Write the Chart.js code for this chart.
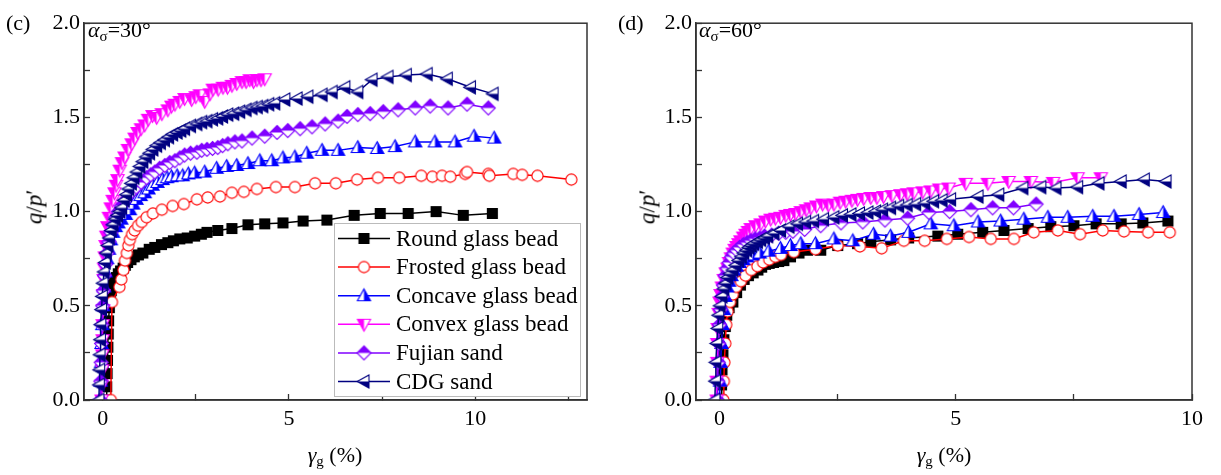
<!DOCTYPE html>
<html><head><meta charset="utf-8">
<script src="https://cdn.jsdelivr.net/npm/chart.js@4/dist/chart.umd.min.js"></script>
<style>
html,body{margin:0;padding:0;background:#fff;width:1221px;height:475px;overflow:hidden;}
.wrap{position:absolute;top:0;height:475px;}
.t{position:absolute;font-family:'Liberation Serif','Times New Roman',serif;color:#000;white-space:nowrap;line-height:1;}
.sub{font-size:0.68em;position:relative;top:0.3em;}
.rot{transform:translate(-50%,-50%) rotate(-90deg);}
.cx{transform:translate(-50%,-50%);}
</style></head><body>
<div class="wrap" style="left:0;width:600px"><canvas id="c1" width="600" height="475"></canvas></div>
<div class="wrap" style="left:610px;width:611px"><canvas id="c2" width="611" height="475"></canvas></div>

<div class="t" style="left:6px;top:12px;font-size:22px">(c)</div>
<div class="t" style="left:88px;top:19px;font-size:22px"><i>α</i><span class="sub">σ</span>=30°</div>
<div class="t rot" style="left:34px;top:207px;font-size:23px"><i>q</i>/<i>p</i>′</div>
<div class="t cx" style="left:335px;top:455px;font-size:22px"><i>γ</i><span class="sub">g</span> (%)</div>

<div class="t" style="left:618px;top:12px;font-size:22px">(d)</div>
<div class="t" style="left:699px;top:19px;font-size:22px"><i>α</i><span class="sub">σ</span>=60°</div>
<div class="t rot" style="left:647px;top:207px;font-size:23px"><i>q</i>/<i>p</i>′</div>
<div class="t cx" style="left:944px;top:455px;font-size:22px"><i>γ</i><span class="sub">g</span> (%)</div>

<script>
// ---------------- DATA ----------------
const seriesNames = ['Round glass bead','Frosted glass bead','Concave glass bead','Convex glass bead','Fujian sand','CDG sand'];
const seriesColors = ['#000000','#FF0000','#0000FF','#FF00FF','#8000FF','#000080'];
const xTicksC = [0,2.5,5,7.5,10,12.5];
const xTicksD = [0,2.5,5,7.5,10];
const yTicks = [0,0.25,0.5,0.75,1.0,1.25,1.5,1.75,2.0];

// panel (c): alpha = 30 deg   [gamma_g (%), q/p']
const roundC = [[0.1,0],[0.11,0.07],[0.12,0.14],[0.13,0.21],[0.14,0.28],[0.15,0.35],[0.16,0.42],[0.18,0.49],[0.2,0.54],[0.23,0.58],[0.27,0.61],[0.32,0.63],[0.37,0.65],[0.42,0.67],[0.48,0.685],[0.55,0.7],[0.61,0.715],[0.67,0.73],[0.76,0.745],[0.85,0.76],[0.96,0.77],[1.08,0.78],[1.25,0.8],[1.4,0.81],[1.58,0.825],[1.75,0.835],[1.9,0.845],[2.07,0.855],[2.27,0.86],[2.47,0.87],[2.65,0.88],[2.8,0.89],[3.09,0.9],[3.47,0.91],[3.9,0.93],[4.35,0.935],[4.84,0.94],[5.38,0.95],[6.02,0.955],[6.75,0.98],[7.45,0.99],[8.2,0.99],[8.95,1.0],[9.68,0.98],[10.46,0.99]];
const frostedC = [[0.22,0],[0.25,0.52],[0.45,0.6],[0.5,0.64],[0.56,0.69],[0.6,0.74],[0.65,0.78],[0.69,0.82],[0.73,0.85],[0.79,0.88],[0.86,0.9],[0.95,0.925],[1.05,0.945],[1.18,0.97],[1.35,0.99],[1.59,1.01],[1.88,1.03],[2.18,1.04],[2.53,1.065],[2.82,1.075],[3.15,1.08],[3.47,1.1],[3.79,1.105],[4.14,1.12],[4.65,1.13],[5.16,1.13],[5.7,1.15],[6.26,1.15],[6.83,1.17],[7.39,1.18],[7.96,1.18],[8.55,1.19],[8.85,1.185],[9.11,1.19],[9.33,1.185],[9.73,1.2],[9.78,1.21],[10.35,1.2],[10.38,1.19],[11.02,1.2],[11.26,1.195],[11.67,1.19],[12.58,1.17]];
const concaveC = [[-0.06,0],[-0.05,0.1],[-0.04,0.2],[-0.03,0.3],[-0.01,0.4],[0.01,0.5],[0.04,0.6],[0.08,0.68],[0.12,0.75],[0.17,0.8],[0.22,0.85],[0.28,0.89],[0.35,0.92],[0.42,0.94],[0.5,0.96],[0.62,0.985],[0.73,1.01],[0.82,1.04],[0.91,1.065],[1.02,1.085],[1.13,1.1],[1.23,1.12],[1.34,1.14],[1.47,1.155],[1.61,1.17],[1.73,1.18],[1.85,1.185],[2.0,1.19],[2.15,1.19],[2.3,1.2],[2.47,1.205],[2.74,1.21],[3.06,1.23],[3.33,1.24],[3.6,1.245],[3.9,1.255],[4.22,1.27],[4.54,1.27],[4.84,1.285],[5.16,1.29],[5.48,1.31],[5.89,1.325],[6.32,1.325],[6.85,1.34],[7.37,1.335],[7.85,1.345],[8.39,1.37],[8.92,1.37],[9.46,1.37],[9.97,1.4],[10.51,1.39]];
const convexC = [[-0.03,0],[-0.02,0.08],[-0.01,0.16],[-0.01,0.24],[0.0,0.32],[0.0,0.4],[0.01,0.48],[0.02,0.56],[0.03,0.64],[0.04,0.7],[0.06,0.76],[0.08,0.82],[0.1,0.87],[0.13,0.92],[0.17,0.97],[0.22,1.02],[0.27,1.06],[0.32,1.1],[0.36,1.14],[0.4,1.17],[0.46,1.22],[0.52,1.26],[0.59,1.29],[0.68,1.33],[0.78,1.36],[0.86,1.39],[0.94,1.42],[1.03,1.44],[1.13,1.46],[1.22,1.49],[1.34,1.51],[1.45,1.5],[1.59,1.52],[1.75,1.54],[1.85,1.56],[1.94,1.57],[2.07,1.585],[2.2,1.6],[2.39,1.595],[2.5,1.61],[2.61,1.62],[2.74,1.585],[2.88,1.625],[2.96,1.65],[3.1,1.65],[3.23,1.66],[3.35,1.66],[3.47,1.67],[3.6,1.68],[3.74,1.69],[3.85,1.69],[3.95,1.7],[4.05,1.69],[4.14,1.7],[4.25,1.7],[4.35,1.705]];
const fujianC = [[-0.06,0],[-0.05,0.1],[-0.04,0.2],[-0.03,0.3],[-0.02,0.4],[0.0,0.5],[0.02,0.58],[0.05,0.66],[0.08,0.72],[0.12,0.78],[0.17,0.84],[0.22,0.89],[0.28,0.93],[0.35,0.97],[0.42,1.0],[0.5,1.03],[0.6,1.06],[0.7,1.09],[0.8,1.11],[0.9,1.13],[1.03,1.155],[1.18,1.18],[1.29,1.195],[1.4,1.21],[1.53,1.23],[1.67,1.245],[1.8,1.26],[1.94,1.27],[2.07,1.285],[2.2,1.3],[2.36,1.31],[2.53,1.315],[2.66,1.325],[2.8,1.33],[2.95,1.335],[3.09,1.34],[3.22,1.35],[3.36,1.36],[3.55,1.37],[3.74,1.375],[4.01,1.39],[4.35,1.4],[4.68,1.42],[4.97,1.43],[5.3,1.44],[5.62,1.45],[5.97,1.465],[6.32,1.48],[6.56,1.505],[6.85,1.515],[7.18,1.52],[7.53,1.53],[7.93,1.54],[8.39,1.55],[8.79,1.56],[9.27,1.55],[9.78,1.57],[10.35,1.55]];
const cdgC = [[-0.1,0],[-0.09,0.08],[-0.08,0.16],[-0.07,0.24],[-0.06,0.32],[-0.05,0.4],[-0.03,0.48],[-0.01,0.55],[0.01,0.62],[0.04,0.68],[0.07,0.73],[0.1,0.78],[0.14,0.82],[0.18,0.86],[0.23,0.9],[0.28,0.93],[0.34,0.96],[0.4,0.98],[0.46,1.0],[0.51,1.02],[0.58,1.06],[0.64,1.09],[0.7,1.12],[0.77,1.15],[0.84,1.18],[0.92,1.21],[1.0,1.24],[1.08,1.265],[1.17,1.29],[1.26,1.31],[1.35,1.33],[1.45,1.35],[1.55,1.365],[1.66,1.38],[1.77,1.395],[1.88,1.41],[2.0,1.42],[2.1,1.43],[2.2,1.44],[2.36,1.455],[2.53,1.465],[2.66,1.475],[2.8,1.48],[2.95,1.49],[3.09,1.495],[3.22,1.505],[3.36,1.515],[3.52,1.52],[3.68,1.53],[3.85,1.54],[4.01,1.55],[4.15,1.555],[4.3,1.56],[4.46,1.57],[4.62,1.575],[4.89,1.595],[5.22,1.6],[5.51,1.61],[5.89,1.62],[6.16,1.635],[6.5,1.66],[6.85,1.635],[7.23,1.7],[7.66,1.715],[8.15,1.725],[8.71,1.73],[9.25,1.705],[9.87,1.66],[10.48,1.625]];

// panel (d): alpha = 60 deg
const roundD = [[0.03,0],[0.04,0.08],[0.05,0.16],[0.07,0.24],[0.09,0.32],[0.12,0.39],[0.15,0.45],[0.2,0.49],[0.28,0.52],[0.36,0.57],[0.44,0.61],[0.52,0.64],[0.61,0.66],[0.71,0.675],[0.81,0.69],[0.89,0.705],[0.97,0.72],[1.05,0.725],[1.14,0.73],[1.25,0.735],[1.36,0.74],[1.5,0.76],[1.68,0.78],[1.86,0.795],[2.14,0.795],[2.5,0.82],[2.92,0.83],[3.2,0.84],[3.62,0.85],[4.0,0.86],[4.62,0.87],[5.04,0.88],[5.57,0.89],[6.02,0.9],[6.53,0.91],[7.01,0.92],[7.5,0.925],[7.97,0.935],[8.5,0.935],[8.96,0.94],[9.49,0.95]];
const frostedD = [[0.08,0],[0.09,0.1],[0.1,0.2],[0.12,0.3],[0.14,0.4],[0.17,0.47],[0.22,0.52],[0.28,0.56],[0.35,0.6],[0.45,0.63],[0.55,0.66],[0.67,0.69],[0.8,0.71],[0.92,0.73],[1.05,0.745],[1.18,0.76],[1.3,0.77],[1.57,0.785],[2.03,0.8],[2.5,0.82],[2.97,0.815],[3.43,0.805],[3.9,0.845],[4.34,0.845],[4.81,0.855],[5.28,0.865],[5.74,0.855],[6.23,0.855],[6.65,0.89],[7.16,0.9],[7.63,0.88],[8.11,0.9],[8.56,0.895],[9.07,0.89],[9.53,0.89]];
const concaveD = [[0.0,0],[0.01,0.1],[0.02,0.2],[0.04,0.3],[0.06,0.4],[0.09,0.48],[0.12,0.55],[0.16,0.6],[0.2,0.63],[0.25,0.66],[0.3,0.69],[0.36,0.71],[0.42,0.73],[0.5,0.745],[0.58,0.76],[0.7,0.77],[0.85,0.78],[1.04,0.79],[1.29,0.805],[1.5,0.82],[1.72,0.83],[2.03,0.83],[2.42,0.855],[2.82,0.845],[3.26,0.88],[3.62,0.87],[4.0,0.89],[4.47,0.935],[4.96,0.925],[5.47,0.945],[5.95,0.95],[6.44,0.96],[6.95,0.97],[7.37,0.97],[7.9,0.975],[8.35,0.975],[8.88,0.985],[9.39,0.995]];
const convexD = [[-0.06,0],[-0.06,0.1],[-0.05,0.2],[-0.05,0.3],[-0.04,0.38],[-0.02,0.46],[0.0,0.52],[0.02,0.56],[0.05,0.6],[0.09,0.64],[0.13,0.675],[0.17,0.7],[0.2,0.73],[0.24,0.755],[0.28,0.78],[0.32,0.8],[0.36,0.815],[0.4,0.83],[0.44,0.845],[0.5,0.865],[0.55,0.88],[0.6,0.895],[0.66,0.91],[0.76,0.925],[0.87,0.935],[0.97,0.95],[1.08,0.96],[1.18,0.965],[1.29,0.97],[1.4,0.98],[1.5,0.985],[1.61,0.99],[1.72,1.0],[1.83,1.01],[1.93,1.02],[2.05,1.03],[2.18,1.04],[2.3,1.035],[2.42,1.04],[2.55,1.05],[2.67,1.055],[2.8,1.06],[2.92,1.065],[3.05,1.07],[3.2,1.075],[3.33,1.075],[3.47,1.08],[3.65,1.085],[3.83,1.09],[3.97,1.095],[4.11,1.1],[4.3,1.105],[4.47,1.11],[4.65,1.12],[4.85,1.125],[5.21,1.15],[5.68,1.15],[6.12,1.16],[6.59,1.16],[7.06,1.155],[7.58,1.18],[8.07,1.18]];
const fujianD = [[-0.05,0],[-0.04,0.1],[-0.03,0.2],[-0.02,0.3],[0.0,0.4],[0.02,0.48],[0.05,0.55],[0.08,0.61],[0.12,0.66],[0.16,0.7],[0.2,0.73],[0.25,0.76],[0.3,0.78],[0.36,0.795],[0.42,0.81],[0.5,0.825],[0.58,0.835],[0.66,0.845],[0.75,0.855],[0.85,0.86],[0.95,0.87],[1.1,0.875],[1.25,0.885],[1.4,0.89],[1.55,0.895],[1.8,0.905],[2.14,0.925],[2.57,0.94],[3.03,0.945],[3.5,0.955],[3.98,0.965],[4.43,0.995],[4.87,1.0],[5.32,1.01],[5.78,1.02],[6.22,1.02],[6.7,1.04]];
const cdgD = [[-0.1,0],[-0.09,0.1],[-0.08,0.2],[-0.06,0.3],[-0.04,0.38],[-0.02,0.45],[0.01,0.5],[0.05,0.55],[0.09,0.59],[0.13,0.62],[0.17,0.65],[0.22,0.67],[0.28,0.69],[0.34,0.715],[0.4,0.74],[0.46,0.76],[0.51,0.78],[0.57,0.795],[0.62,0.81],[0.67,0.82],[0.72,0.83],[0.8,0.84],[0.87,0.85],[0.95,0.86],[1.02,0.87],[1.15,0.885],[1.29,0.9],[1.47,0.92],[1.65,0.935],[1.82,0.945],[1.99,0.95],[2.2,0.96],[2.42,0.97],[2.6,0.98],[2.78,0.985],[2.96,0.99],[3.14,0.995],[3.3,1.0],[3.45,1.01],[3.62,1.02],[3.79,1.03],[3.97,1.035],[4.15,1.04],[4.34,1.045],[4.53,1.055],[4.71,1.06],[4.89,1.065],[5.47,1.08],[5.91,1.09],[6.42,1.125],[6.8,1.13],[7.12,1.125],[7.58,1.13],[8.03,1.15],[8.5,1.16],[8.99,1.17],[9.45,1.16]];

const panelC = [roundC, frostedC, concaveC, convexC, fujianC, cdgC];
const panelD = [roundD, frostedD, concaveD, convexD, fujianD, cdgD];

// ---------------- MARKERS ----------------
const markerShapes = ['square','circle','up','down','diamond','left'];
const markerFill = ['full','none','right','left','top','bottom'];

function makeMarker(shape, color, fill) {
  const s = 17, c = 8.5;
  const cv = document.createElement('canvas'); cv.width = s; cv.height = s;
  const g = cv.getContext('2d');
  const path = () => {
    g.beginPath();
    if (shape === 'square') g.rect(c-5, c-5, 10, 10);
    else if (shape === 'circle') g.arc(c, c, 5.6, 0, Math.PI*2);
    else if (shape === 'up') { g.moveTo(c, c-6.8); g.lineTo(c+6.6, c+5); g.lineTo(c-6.6, c+5); g.closePath(); }
    else if (shape === 'down') { g.moveTo(c-6.6, c-5); g.lineTo(c+6.6, c-5); g.lineTo(c, c+6.8); g.closePath(); }
    else if (shape === 'diamond') { g.moveTo(c, c-7); g.lineTo(c+7, c); g.lineTo(c, c+7); g.lineTo(c-7, c); g.closePath(); }
    else if (shape === 'left') { g.moveTo(c-6.8, c); g.lineTo(c+5, c-6.6); g.lineTo(c+5, c+6.6); g.closePath(); }
  };
  path(); g.fillStyle = '#fff'; g.fill();
  if (fill !== 'none') {
    g.save();
    if (fill !== 'full') {
      g.beginPath();
      if (fill === 'right') g.rect(c, 0, s, s);
      if (fill === 'left') g.rect(0, 0, c, s);
      if (fill === 'top') g.rect(0, 0, s, c);
      if (fill === 'bottom') g.rect(0, c, s, s);
      g.clip();
    }
    path(); g.fillStyle = color; g.fill();
    g.restore();
  }
  path(); g.lineWidth = 1.1; g.strokeStyle = color; g.stroke();
  return cv;
}
const markers = seriesColors.map((col, i) => makeMarker(markerShapes[i], col, markerFill[i]));

// ---------------- PLUGINS ----------------
const framePlugin = {
  id: 'frame',
  afterDraw(chart) {
    const a = chart.chartArea, g = chart.ctx;
    g.save(); g.strokeStyle = '#333'; g.lineWidth = 1.5;
    g.strokeRect(a.left, a.top, a.right - a.left, a.bottom - a.top);
    g.restore();
  }
};
const legendPlugin = {
  id: 'boxLegend',
  afterDraw(chart, args, opts) {
    if (!opts || !opts.show) return;
    const g = chart.ctx;
    const x0 = 334, y0 = 223, w = 246, h = 173;
    g.save();
    g.fillStyle = '#fff'; g.fillRect(x0, y0, w, h);
    g.strokeStyle = '#bbb'; g.lineWidth = 1; g.strokeRect(x0 + 0.5, y0 + 0.5, w, h);
    g.font = '23px "Liberation Serif"'; g.textBaseline = 'middle'; g.fillStyle = '#000';
    chart.data.datasets.forEach((ds, i) => {
      const y = 238.5 + i * 28.6;
      g.strokeStyle = ds.borderColor; g.lineWidth = 1.5;
      g.beginPath(); g.moveTo(338, y); g.lineTo(390, y); g.stroke();
      const m = ds.pointStyle;
      g.drawImage(m, 364 - m.width/2, y - m.height/2);
      g.fillStyle = '#000';
      g.fillText(ds.label, 396, y + 1);
    });
    g.restore();
  }
};

// ---------------- CHARTS ----------------
Chart.defaults.font.family = '"Liberation Serif", "Times New Roman", serif';
Chart.defaults.font.size = 22;
Chart.defaults.color = '#000';

function buildChart(id, data, xMax, xTicks, yAxisW, padRight, showLegend) {
  const datasets = data.map((arr, i) => ({
    label: seriesNames[i],
    data: arr.map(p => ({x: p[0], y: p[1]})),
    borderColor: seriesColors[i],
    backgroundColor: seriesColors[i],
    borderWidth: 1.5,
    pointStyle: markers[i],
    pointRadius: 5,
    tension: 0,
    order: 5 - i
  }));
  return new Chart(document.getElementById(id), {
    type: 'line',
    data: { datasets },
    options: {
      responsive: false, animation: false, devicePixelRatio: 1,
      layout: { padding: { top: 15, right: padRight, left: 0, bottom: 0 } },
      plugins: { legend: { display: false }, tooltip: { enabled: false }, boxLegend: { show: showLegend } },
      scales: {
        x: {
          type: 'linear', min: -0.5, max: xMax,
          afterFit: s => { s.height = 75; },
          afterBuildTicks: s => { s.ticks = xTicks.map(v => ({value: v})); },
          ticks: { padding: 12, maxRotation: 0, autoSkip: false,
                   callback: v => (Math.abs(v % 5) < 1e-9 ? String(v) : '') },
          grid: { drawOnChartArea: false, drawTicks: true, tickLength: -6, tickColor: '#333', tickWidth: 1.3 },
          border: { display: true, color: '#333', width: 1.5 }
        },
        y: {
          type: 'linear', min: 0, max: 2,
          afterFit: s => { s.width = yAxisW; },
          afterBuildTicks: s => { s.ticks = yTicks.map(v => ({value: v})); },
          ticks: { padding: 10, autoSkip: false,
                   callback: v => (Math.abs(v * 2 - Math.round(v * 2)) < 1e-9 ? v.toFixed(1) : '') },
          grid: { drawOnChartArea: false, drawTicks: true, tickLength: -6, tickColor: '#333', tickWidth: 1.3 },
          border: { display: true, color: '#333', width: 1.5 }
        }
      }
    },
    plugins: [framePlugin, legendPlugin]
  });
}

buildChart('c1', panelC, 13, xTicksC, 84, 13, true);
buildChart('c2', panelD, 10, xTicksD, 86, 29, false);
</script>
</body></html>
